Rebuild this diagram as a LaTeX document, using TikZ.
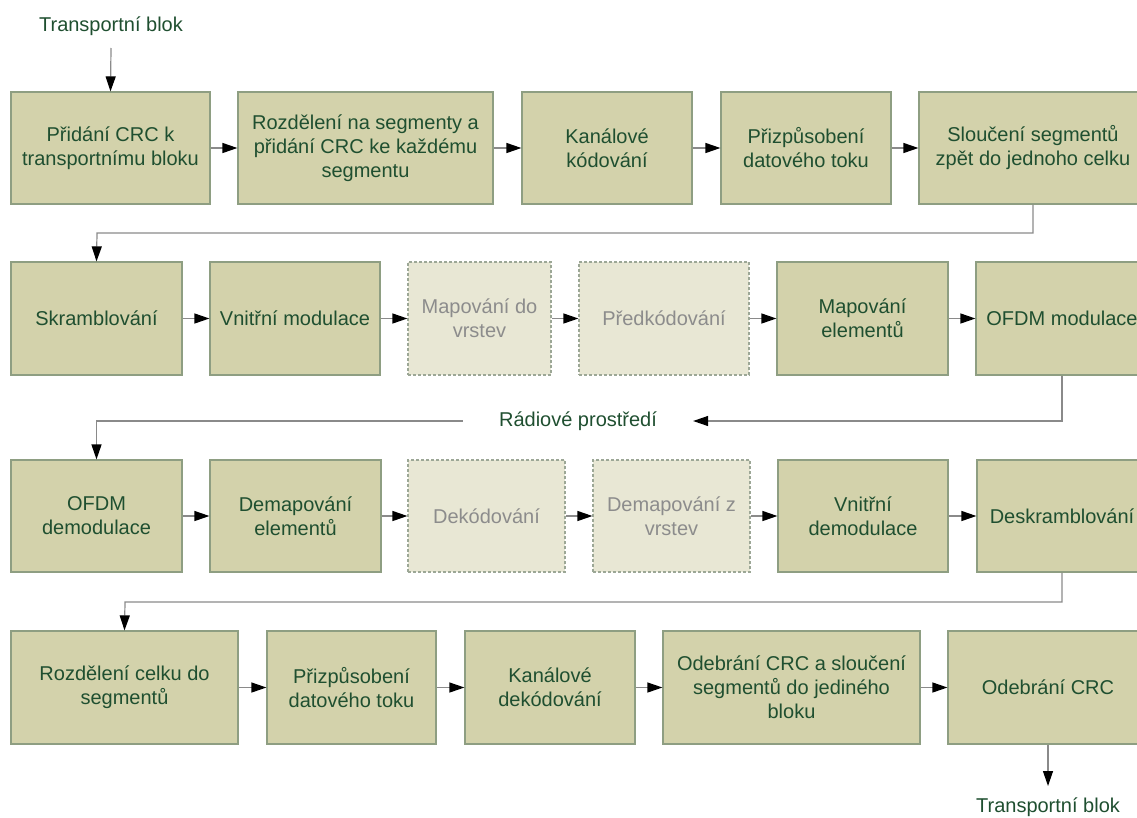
\documentclass[tikz,border=0pt]{standalone}
\usepackage{fontspec}
\setmainfont{Liberation Sans}
\usetikzlibrary{arrows.meta}
\definecolor{boxfill}{HTML}{D3D2AB}
\definecolor{boxline}{HTML}{8E9E82}
\definecolor{fadefill}{HTML}{E8E7D4}
\definecolor{fadeline}{HTML}{9CA796}
\definecolor{txtgreen}{HTML}{1F4F30}
\definecolor{txtgray}{HTML}{8C8C8C}
\definecolor{linegray}{HTML}{8A8A8A}
\tikzset{
  lbl/.style={font=\fontsize{20}{24}\selectfont, text=txtgreen, align=center},
  box/.style={lbl, draw=boxline, fill=boxfill, line width=1.2pt, rectangle, inner sep=0pt},
  fadebox/.style={box, draw=fadeline, fill=fadefill, text=txtgray, dashed, dash pattern=on 3pt off 2pt},
  arr/.style={draw=linegray, line width=1.2pt, -{Triangle[length=15pt,width=10pt,color=black]}}
}
\begin{document}
\begin{tikzpicture}[x=1pt,y=-1pt]
\useasboundingbox (0,0) rectangle (1137,817);
% row 1
\node[box, minimum width=199, minimum height=112] (a1) at (110.5,148) {Přidání CRC k\\transportnímu bloku};
\node[box, minimum width=255, minimum height=112] (a2) at (365.5,148) {Rozdělení na segmenty a\\přidání CRC ke každému\\segmentu};
\node[box, minimum width=170, minimum height=112] (a3) at (607,148) {Kanálové\\kódování};
\node[box, minimum width=170, minimum height=112] (a4) at (806,148) {Přizpůsobení\\datového toku};
\node[box, minimum width=228, minimum height=112] (a5) at (1033,148) {Sloučení segmentů\\zpět do jednoho celku};
% row 2
\node[box, minimum width=171, minimum height=113] (b1) at (96.5,318.5) {Skramblování};
\node[box, minimum width=170, minimum height=113] (b2) at (295,318.5) {Vnitřní modulace};
\node[fadebox, minimum width=143, minimum height=113] (b3) at (479.5,318.5) {Mapování do\\vrstev};
\node[fadebox, minimum width=170, minimum height=113] (b4) at (664,318.5) {Předkódování};
\node[box, minimum width=171, minimum height=113] (b5) at (862.5,318.5) {Mapování\\elementů};
\node[box, minimum width=172, minimum height=113] (b6) at (1062,318.5) {OFDM modulace};
% row 3
\node[box, minimum width=171, minimum height=112] (c1) at (96.5,516) {OFDM\\demodulace};
\node[box, minimum width=171, minimum height=112] (c2) at (295.5,516) {Demapování\\elementů};
\node[fadebox, minimum width=157, minimum height=112] (c3) at (486.5,516) {Dekódování};
\node[fadebox, minimum width=157, minimum height=112] (c4) at (671.5,516) {Demapování z\\vrstev};
\node[box, minimum width=170, minimum height=112] (c5) at (863,516) {Vnitřní\\demodulace};
\node[box, minimum width=170, minimum height=112] (c6) at (1062,516) {Deskramblování};
% row 4
\node[box, minimum width=227, minimum height=113] (d1) at (124.5,687.5) {Rozdělení celku do\\segmentů};
\node[box, minimum width=169, minimum height=113] (d2) at (351.5,687.5) {Přizpůsobení\\datového toku};
\node[box, minimum width=170, minimum height=113] (d3) at (550,687.5) {Kanálové\\dekódování};
\node[box, minimum width=257, minimum height=113] (d4) at (791.5,687.5) {Odebrání CRC a sloučení\\segmentů do jediného\\bloku};
\node[box, minimum width=200, minimum height=113] (d5) at (1048,687.5) {Odebrání CRC};
% labels
\node[lbl] (tin) at (111,26) {Transportní blok};
\node[lbl] (tout) at (1048,807) {Transportní blok};
\node[lbl, inner xsep=36pt] (radio) at (578,421) {Rádiové prostředí};
\coordinate (t0) at (111,48);
\coordinate (t1) at (1048,786);
\coordinate (j1) at (97,233);
\coordinate (j3) at (125,602);
% connectors
\draw[arr] (t0) -- (a1.north);
\draw[arr] (a1.east) -- (a2.west);
\draw[arr] (a2.east) -- (a3.west);
\draw[arr] (a3.east) -- (a4.west);
\draw[arr] (a4.east) -- (a5.west);
\draw[arr] (a5.south) |- (j1) -- (b1.north);
\draw[arr] (b1.east) -- (b2.west);
\draw[arr] (b2.east) -- (b3.west);
\draw[arr] (b3.east) -- (b4.west);
\draw[arr] (b4.east) -- (b5.west);
\draw[arr] (b5.east) -- (b6.west);
\draw[arr] (b6.south) |- (radio.east);
\draw[arr] (radio.west) -| (c1.north);
\draw[arr] (c1.east) -- (c2.west);
\draw[arr] (c2.east) -- (c3.west);
\draw[arr] (c3.east) -- (c4.west);
\draw[arr] (c4.east) -- (c5.west);
\draw[arr] (c5.east) -- (c6.west);
\draw[arr] (c6.south) |- (j3) -- (d1.north);
\draw[arr] (d1.east) -- (d2.west);
\draw[arr] (d2.east) -- (d3.west);
\draw[arr] (d3.east) -- (d4.west);
\draw[arr] (d4.east) -- (d5.west);
\draw[arr] (d5.south) -- (t1);
\end{tikzpicture}
\end{document}
